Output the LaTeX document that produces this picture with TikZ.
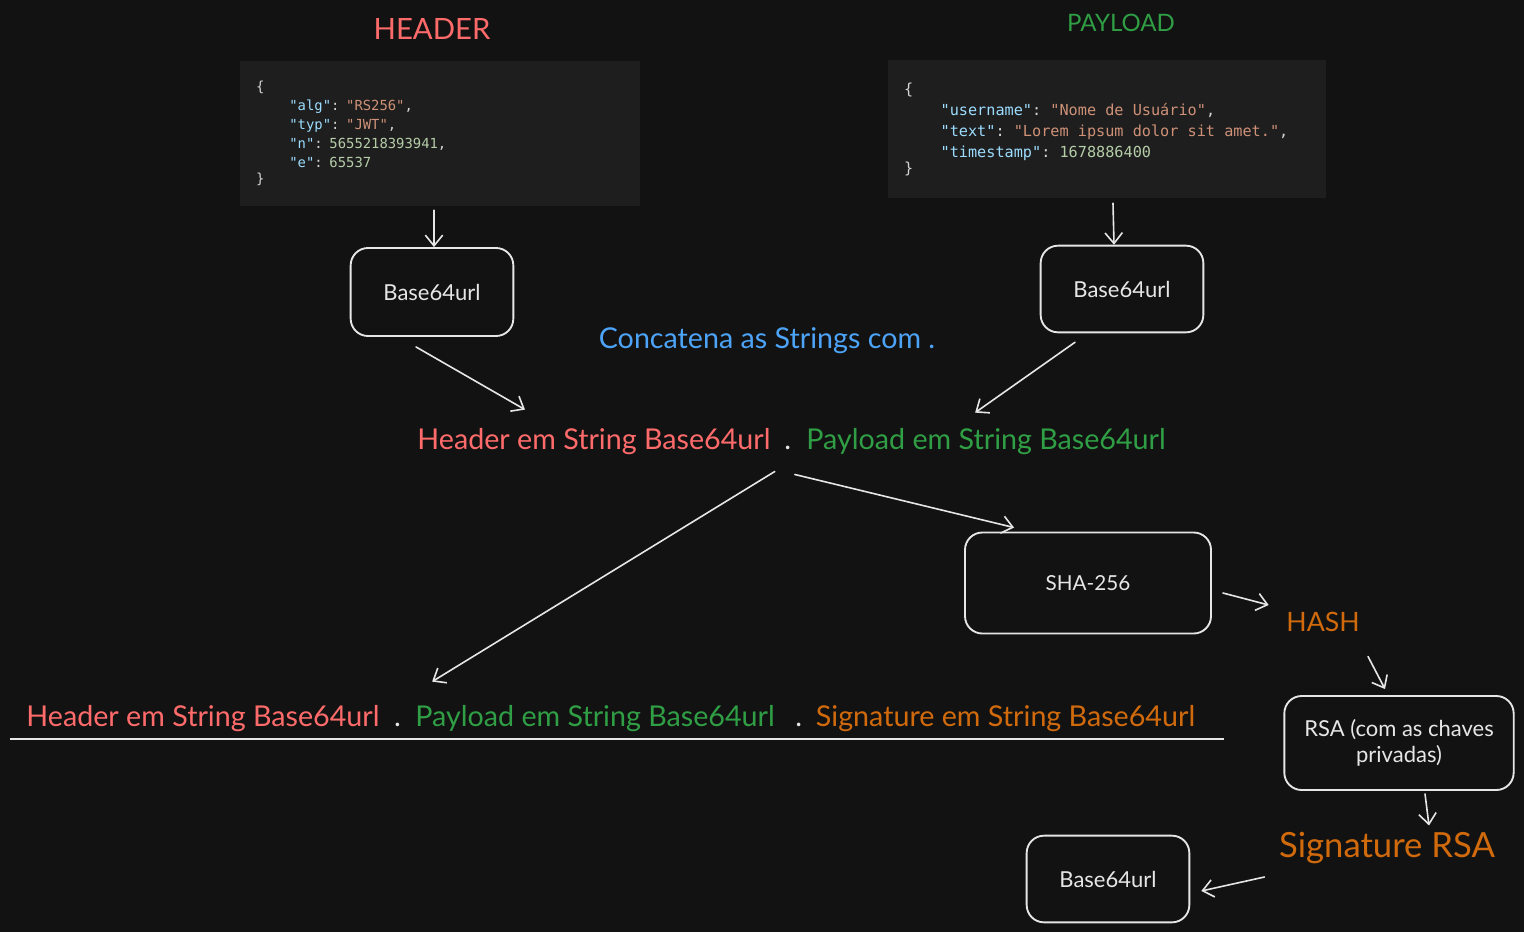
\documentclass[tikz,border=0pt]{standalone}
\usepackage{fontspec}
\setmainfont{Lato}
\setmonofont{DejaVu Sans Mono}
\usetikzlibrary{arrows.meta,positioning}

\definecolor{canvas}{HTML}{121212}
\definecolor{codebg}{HTML}{1E1E1E}
\definecolor{stroke}{HTML}{E6E6E6}
\definecolor{jwtred}{HTML}{FF6B6B}
\definecolor{jwtgreen}{HTML}{2F9E44}
\definecolor{jwtorange}{HTML}{D06A0C}
\definecolor{jwtblue}{HTML}{4DA3F7}
\definecolor{codekey}{HTML}{9CDCFE}
\definecolor{codestr}{HTML}{CE9178}
\definecolor{codenum}{HTML}{B5CEA8}
\definecolor{codepun}{HTML}{D4D4D4}

\newcommand{\jkey}[1]{\textcolor{codekey}{#1}}
\newcommand{\jstr}[1]{\textcolor{codestr}{#1}}
\newcommand{\jnum}[1]{\textcolor{codenum}{#1}}
\newcommand{\ind}{\phantom{0000}}
\newcommand{\msp}{\hphantom{0}}

\begin{document}
\begin{tikzpicture}[x=0.75pt,y=-0.75pt]
    \tikzstyle{codebox} = [rectangle, fill=codebg, inner xsep=12pt, inner ysep=0pt,
        align=left, text=codepun, font=\ttfamily]
    \tikzstyle{stepbox} = [rectangle, draw=stroke, line width=1.4pt, rounded corners=13pt,
        fill=canvas, text=stroke, align=center]
    \tikzstyle{part} = [font=\fontsize{21.5}{25}\selectfont, inner sep=0pt]
    \tikzstyle{arr} = [draw=stroke, line width=1.2pt, line cap=round,
        -{Straight Barb[length=8pt, width=13pt, line width=1.2pt]}]

    \fill[canvas] (0,0) rectangle (1524,932);
    \useasboundingbox (0,0) rectangle (1524,932);

    % titles
    \node (htitle) [text=jwtred, font=\fontsize{22}{26}\selectfont] at (432,29) {HEADER};
    \node (ptitle) [text=jwtgreen, font=\fontsize{18}{22}\selectfont] at (1121,23) {PAYLOAD};

    % json blocks
    \node (hcode) [codebox, minimum width=300pt, minimum height=108.75pt, text width=276pt]
        at (440,133.5) {\fontsize{10.4}{14.25}\selectfont
        \{\\
        \ind\jkey{"alg"}: \jstr{"RS256"},\\
        \ind\jkey{"typ"}: \jstr{"JWT"},\\
        \ind\jkey{"n"}: \jnum{5655218393941},\\
        \ind\jkey{"e"}: \jnum{65537}\\
        \}};
    \node (pcode) [codebox, minimum width=328.5pt, minimum height=103.5pt, text width=304.5pt]
        at (1107,129) {\fontsize{11.4}{15.75}\selectfont
        \{\\
        \ind\jkey{"username"}:\msp\jstr{"Nome\msp de\msp Usuário"},\\
        \ind\jkey{"text"}:\msp\jstr{"Lorem\msp ipsum\msp dolor\msp sit\msp amet."},\\
        \ind\jkey{"timestamp"}:\msp\jnum{1678886400}\\
        \}};

    % encoding
    \node (hb64) [stepbox, minimum width=122pt, minimum height=66pt,
        font=\fontsize{16.5}{20}\selectfont] at (432,292) {Base64url};
    \node (pb64) [stepbox, minimum width=122pt, minimum height=65pt,
        font=\fontsize{16.5}{20}\selectfont] at (1122,289) {Base64url};
    \draw [arr] (hb64.north |- hcode.south) ++(2,4) -- ([xshift=1.5pt]hb64.north);
    \draw [arr] (pcode.south) ++(6,5) -- ([xshift=-6pt]pb64.north);

    \node (concat) [text=jwtblue, font=\fontsize{21.5}{25}\selectfont] at (767,341)
        {Concatena as Strings com .};

    % header.payload
    \node (hstr) [part, text=jwtred, anchor=base] at (594,449) {Header em String Base64url};
    \node (dot) [part, text=stroke, base right=10pt of hstr] {.};
    \node (pstr) [part, text=jwtgreen, base right=11pt of dot] {Payload em String Base64url};
    \draw [arr] ([shift={(-16,10)}]hb64.south) -- ([shift={(-69,-18)}]hstr.north);
    \draw [arr] ([shift={(-47,9)}]pb64.south) -- ([shift={(169,-15)}]pstr.north west);

    % hash + sign
    \node (sha) [stepbox, minimum width=184.5pt, minimum height=75.75pt,
        font=\fontsize{15.5}{18}\selectfont] at (1088,583) {SHA-256};
    \node (hash) [text=jwtorange, font=\fontsize{20}{24}\selectfont] at (1323,622) {HASH};
    \node (rsa) [stepbox, minimum width=172pt, minimum height=70.5pt,
        font=\fontsize{16.5}{19.5}\selectfont] at (1399,743) {RSA (com as chaves\\privadas)};
    \node (sigrsa) [text=jwtorange, font=\fontsize{26}{30}\selectfont] at (1387,848) {Signature RSA};
    \node (sb64) [stepbox, minimum width=122pt, minimum height=65pt,
        font=\fontsize{16.5}{20}\selectfont] at (1108,879) {Base64url};
    \draw [arr] ([shift={(7,25)}]dot.south) -- ([shift={(50,-4)}]sha.north west);
    \draw [arr] ([shift={(11,10)}]sha.east) -- ([shift={(-13,-17)}]hash.west);
    \draw [arr] ([shift={(45,20)}]hash.south) -- ([shift={(-14,-6)}]rsa.north);
    \draw [arr] ([shift={(26,3)}]rsa.south) -- ([shift={(42,-2)}]sigrsa.north);
    \draw [arr] ([shift={(-10,29)}]sigrsa.west) -- ([shift={(11,12)}]sb64.east);

    % final token
    \node (jh) [part, text=jwtred, anchor=base] at (203,726) {Header em String Base64url};
    \node (jd1) [part, text=stroke, base right=10.5pt of jh] {.};
    \node (jp) [part, text=jwtgreen, base right=10.5pt of jd1] {Payload em String Base64url};
    \node (jd2) [part, text=stroke, base right=15pt of jp] {.};
    \node (js) [part, text=jwtorange, base right=10pt of jd2] {Signature em String Base64url};
    \draw [arr] ([shift={(-13,22)}]dot.south) -- ([shift={(17,-23)}]jp.north west);
    \draw [draw=stroke, line width=1.6pt] (10,739) -- (1224,739);
\end{tikzpicture}
\end{document}
